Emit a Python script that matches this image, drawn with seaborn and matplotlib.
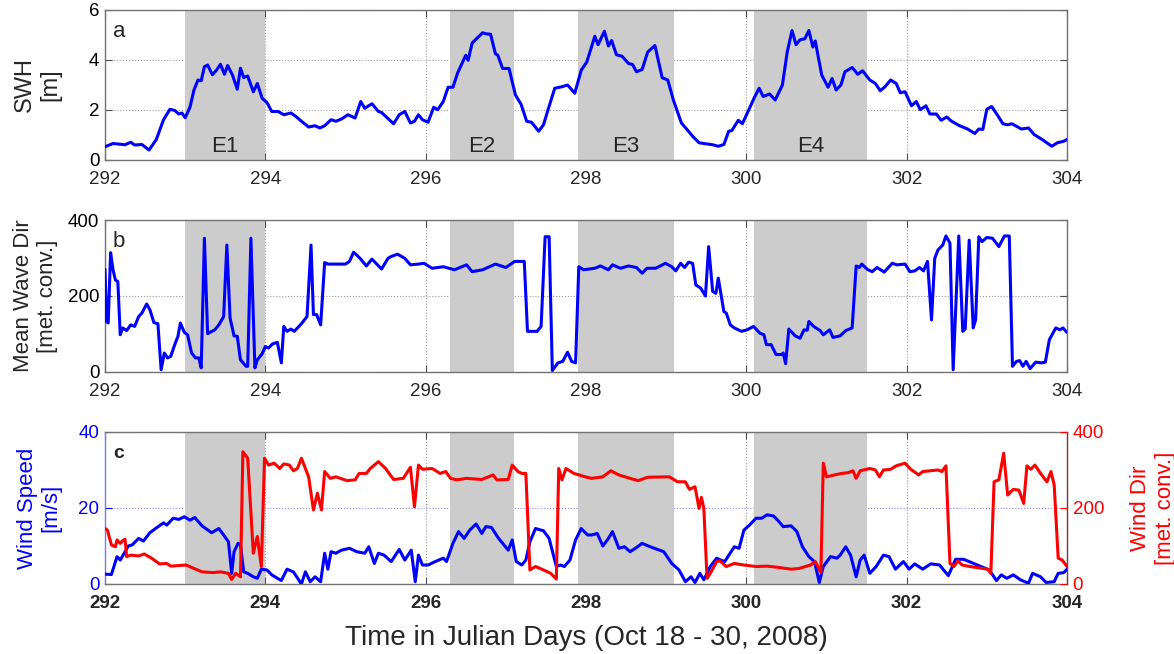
import matplotlib
matplotlib.use("Agg")
import matplotlib.pyplot as plt
import pandas as pd
import seaborn as sns

# Significant wave height (panel a)
swh_day = [292.0, 292.1, 292.25, 292.32, 292.37, 292.46, 292.55, 292.64, 292.73, 292.81,
           292.87, 292.92, 292.96, 293.0, 293.06, 293.11, 293.16, 293.2, 293.24, 293.28,
           293.34, 293.39, 293.44, 293.49, 293.53, 293.59, 293.65, 293.69, 293.73, 293.78,
           293.85, 293.9, 293.96, 294.02, 294.08, 294.16, 294.23, 294.32, 294.39, 294.45,
           294.54, 294.62, 294.68, 294.74, 294.82, 294.88, 294.95, 295.03, 295.12, 295.19,
           295.24, 295.33, 295.41, 295.45, 295.51, 295.6, 295.67, 295.74, 295.81, 295.86,
           295.91, 295.96, 296.03, 296.1, 296.15, 296.22, 296.28, 296.34, 296.4, 296.5,
           296.53, 296.58, 296.71, 296.75, 296.81, 296.87, 296.9, 296.96, 297.04, 297.12,
           297.19, 297.26, 297.32, 297.41, 297.47, 297.52, 297.61, 297.7, 297.77, 297.86,
           297.94, 298.01, 298.11, 298.15, 298.23, 298.28, 298.32, 298.38, 298.45, 298.53,
           298.58, 298.63, 298.7, 298.77, 298.86, 298.95, 299.02, 299.09, 299.19, 299.26,
           299.33, 299.41, 299.49, 299.58, 299.65, 299.72, 299.78, 299.82, 299.9, 299.95,
           300.04, 300.1, 300.16, 300.21, 300.29, 300.36, 300.45, 300.51, 300.57, 300.62,
           300.67, 300.73, 300.78, 300.83, 300.86, 300.94, 301.02, 301.07, 301.12, 301.18,
           301.23, 301.32, 301.39, 301.45, 301.54, 301.61, 301.67, 301.73, 301.8, 301.87,
           301.92, 301.98, 302.06, 302.12, 302.17, 302.24, 302.29, 302.37, 302.43, 302.5,
           302.56, 302.66, 302.76, 302.85, 302.9, 302.95, 303.0, 303.06, 303.13, 303.2,
           303.26, 303.31, 303.37, 303.43, 303.52, 303.59, 303.69, 303.81, 303.88, 303.96,
           304.0]
swh_m = [0.53, 0.66, 0.61, 0.71, 0.6, 0.62, 0.4, 0.82, 1.61, 2.03,
         1.98, 1.84, 1.88, 1.69, 2.11, 2.8, 3.2, 3.17, 3.73, 3.8,
         3.41, 3.59, 3.83, 3.43, 3.78, 3.4, 2.83, 3.67, 3.3, 3.36,
         2.73, 3.06, 2.47, 2.3, 1.94, 1.94, 1.81, 1.88, 1.72, 1.55,
         1.32, 1.37, 1.28, 1.37, 1.61, 1.55, 1.64, 1.81, 1.68, 2.34,
         2.07, 2.25, 1.94, 1.9, 1.72, 1.45, 1.81, 1.94, 1.48, 1.55,
         1.81, 1.61, 1.51, 2.11, 2.01, 2.34, 2.91, 2.91, 3.49, 4.19,
         3.99, 4.68, 5.09, 5.05, 5.03, 4.25, 4.19, 3.66, 3.66, 2.6,
         2.23, 1.55, 1.51, 1.15, 1.41, 1.94, 2.87, 2.93, 3.0, 2.67,
         3.59, 3.92, 4.95, 4.61, 5.15, 4.56, 4.78, 4.21, 4.15, 3.86,
         3.82, 3.53, 3.62, 4.32, 4.58, 3.29, 3.2, 2.4, 1.48, 1.22,
         0.95, 0.69, 0.65, 0.61, 0.55, 0.62, 1.15, 1.18, 1.59, 1.45,
         2.07, 2.5, 2.87, 2.54, 2.64, 2.4, 3.0, 4.32, 5.18, 4.61,
         4.81, 4.85, 5.18, 4.52, 4.76, 3.4, 2.91, 3.26, 2.8, 3.0,
         3.53, 3.7, 3.43, 3.57, 3.2, 3.06, 2.77, 2.93, 3.2, 3.06,
         2.69, 2.73, 2.17, 2.34, 2.01, 2.17, 1.84, 1.84, 1.59, 1.72,
         1.55, 1.37, 1.24, 1.06, 1.24, 1.22, 2.03, 2.14, 1.81, 1.45,
         1.41, 1.45, 1.35, 1.24, 1.28, 1.02, 0.82, 0.55, 0.69, 0.75,
         0.82]

# Mean wave direction (panel b)
mwd_day = [292.0, 292.02, 292.04, 292.07, 292.1, 292.13, 292.16, 292.19, 292.22, 292.27,
           292.32, 292.37, 292.42, 292.46, 292.52, 292.56, 292.61, 292.66, 292.7, 292.74,
           292.78, 292.82, 292.87, 292.91, 292.94, 292.99, 293.03, 293.08, 293.13, 293.17,
           293.2, 293.24, 293.28, 293.37, 293.42, 293.48, 293.52, 293.56, 293.61, 293.65,
           293.69, 293.76, 293.78, 293.82, 293.87, 293.9, 293.96, 294.0, 294.04, 294.09,
           294.15, 294.2, 294.23, 294.27, 294.32, 294.36, 294.45, 294.52, 294.57, 294.6,
           294.64, 294.69, 294.74, 294.78, 295.0, 295.05, 295.1, 295.14, 295.19, 295.26,
           295.33, 295.38, 295.45, 295.53, 295.57, 295.65, 295.74, 295.81, 295.91, 295.98,
           296.08, 296.22, 296.36, 296.51, 296.58, 296.71, 296.87, 297.0, 297.11, 297.23,
           297.27, 297.39, 297.44, 297.49, 297.54, 297.58, 297.65, 297.71, 297.77, 297.82,
           297.87, 297.91, 297.97, 298.11, 298.18, 298.28, 298.33, 298.43, 298.53, 298.63,
           298.7, 298.76, 298.87, 298.99, 299.07, 299.12, 299.18, 299.23, 299.28, 299.33,
           299.37, 299.43, 299.49, 299.53, 299.58, 299.62, 299.65, 299.72, 299.75, 299.8,
           299.85, 299.94, 300.01, 300.09, 300.17, 300.22, 300.25, 300.31, 300.37, 300.44,
           300.46, 300.49, 300.53, 300.61, 300.67, 300.72, 300.76, 300.78, 300.84, 300.92,
           300.96, 301.04, 301.08, 301.17, 301.24, 301.32, 301.37, 301.41, 301.44, 301.51,
           301.57, 301.63, 301.72, 301.82, 301.88, 301.98, 302.04, 302.1, 302.16, 302.21,
           302.26, 302.31, 302.35, 302.39, 302.45, 302.49, 302.54, 302.58, 302.65, 302.7,
           302.73, 302.78, 302.83, 302.86, 302.9, 302.94, 303.0, 303.07, 303.15, 303.22,
           303.28, 303.32, 303.37, 303.41, 303.45, 303.49, 303.54, 303.61, 303.68, 303.73,
           303.78, 303.86, 303.91, 303.95, 304.0]
mwd_deg = [270, 133, 129, 314, 269, 242, 238, 98, 116, 109,
           124, 120, 146, 155, 179, 164, 130, 127, 6, 50,
           37, 41, 72, 94, 129, 104, 98, 50, 37, 37,
           11, 352, 101, 111, 124, 146, 334, 142, 95, 94,
           32, 15, 15, 352, 11, 32, 48, 67, 63, 74,
           78, 24, 120, 107, 113, 107, 127, 146, 334, 151,
           151, 124, 288, 284, 284, 291, 315, 308, 297, 279,
           297, 286, 271, 299, 304, 310, 299, 282, 284, 286,
           273, 277, 269, 282, 264, 269, 284, 275, 291, 291,
           107, 107, 120, 356, 356, 4, 24, 28, 52, 28,
           24, 277, 269, 273, 279, 269, 282, 273, 279, 275,
           260, 273, 273, 286, 277, 266, 286, 275, 289, 286,
           229, 221, 200, 330, 212, 207, 247, 159, 155, 124,
           116, 107, 111, 120, 102, 98, 72, 72, 46, 46,
           50, 22, 113, 95, 89, 111, 110, 133, 120, 109,
           98, 111, 91, 95, 109, 116, 279, 275, 284, 270,
           264, 275, 263, 286, 282, 284, 264, 266, 275, 266,
           291, 137, 299, 321, 334, 358, 339, 6, 358, 107,
           113, 347, 116, 137, 356, 343, 354, 352, 330, 358,
           358, 15, 28, 30, 15, 28, 9, 26, 24, 26,
           85, 116, 111, 116, 104]

# Wind speed (panel c, left axis)
ws_day = [292.0, 292.08, 292.15, 292.19, 292.24, 292.29, 292.34, 292.42, 292.48, 292.56,
          292.63, 292.73, 292.77, 292.85, 292.92, 292.99, 293.06, 293.12, 293.21, 293.33,
          293.42, 293.49, 293.54, 293.58, 293.61, 293.66, 293.69, 293.73, 293.78, 293.85,
          293.9, 293.95, 294.02, 294.08, 294.2, 294.27, 294.35, 294.45, 294.5, 294.56,
          294.62, 294.69, 294.74, 294.78, 294.82, 294.88, 294.95, 295.05, 295.14, 295.24,
          295.29, 295.36, 295.41, 295.48, 295.57, 295.67, 295.74, 295.82, 295.87, 295.91,
          295.96, 296.03, 296.12, 296.22, 296.26, 296.34, 296.41, 296.48, 296.55, 296.63,
          296.7, 296.75, 296.82, 296.91, 297.03, 297.08, 297.13, 297.2, 297.25, 297.3,
          297.37, 297.47, 297.54, 297.63, 297.68, 297.73, 297.8, 297.87, 297.94, 298.02,
          298.07, 298.14, 298.21, 298.28, 298.33, 298.41, 298.48, 298.55, 298.63, 298.7,
          298.8, 298.97, 299.07, 299.16, 299.24, 299.31, 299.36, 299.42, 299.47, 299.55,
          299.63, 299.68, 299.73, 299.77, 299.85, 299.91, 299.97, 300.04, 300.12, 300.19,
          300.26, 300.34, 300.39, 300.46, 300.56, 300.63, 300.7, 300.78, 300.85, 300.91,
          300.96, 301.05, 301.13, 301.17, 301.24, 301.3, 301.37, 301.42, 301.47, 301.54,
          301.62, 301.71, 301.78, 301.86, 301.96, 302.03, 302.1, 302.2, 302.3, 302.41,
          302.52, 302.61, 302.71, 302.88, 303.03, 303.12, 303.18, 303.25, 303.33, 303.42,
          303.52, 303.57, 303.67, 303.74, 303.84, 303.89, 303.96, 304.0]
ws_ms = [2.6, 2.5, 7.2, 6.3, 8.1, 10.0, 10.3, 12.0, 11.3, 13.5,
         14.6, 16.1, 15.5, 17.3, 17.0, 17.7, 16.8, 17.5, 15.3, 13.5,
         14.6, 12.6, 11.1, 2.8, 8.5, 10.7, 10.3, 3.2, 2.8, 1.9,
         1.5, 3.9, 3.7, 2.4, 0.9, 3.9, 3.2, 0.0, 3.2, 0.6,
         1.9, 0.6, 8.1, 3.9, 8.5, 8.1, 8.9, 9.4, 8.5, 8.1,
         9.8, 5.4, 8.1, 7.6, 5.9, 9.1, 6.3, 8.9, 0.6, 7.6,
         5.0, 5.0, 5.9, 6.8, 5.9, 10.7, 13.8, 12.0, 14.2, 15.8,
         13.3, 15.1, 14.9, 12.0, 8.9, 11.6, 5.9, 5.0, 6.3, 11.1,
         14.6, 14.0, 12.0, 4.6, 5.0, 4.6, 6.3, 11.6, 14.6, 12.9,
         12.9, 13.3, 10.0, 12.0, 13.8, 9.4, 9.8, 8.5, 9.6, 10.7,
         9.8, 8.5, 5.4, 3.7, 0.6, 1.9, 0.4, 2.8, 1.1, 4.6,
         6.8, 6.3, 5.9, 7.2, 9.8, 9.4, 14.2, 15.5, 17.3, 17.3,
         18.2, 17.9, 16.8, 15.1, 15.3, 13.8, 9.8, 7.2, 5.9, 0.4,
         4.6, 7.2, 6.8, 7.6, 9.8, 7.6, 1.9, 6.3, 7.6, 2.8,
         4.6, 7.6, 7.2, 3.9, 5.9, 3.9, 5.3, 3.9, 5.3, 5.0,
         2.2, 6.5, 6.5, 5.0, 3.7, 0.9, 2.4, 1.5, 2.4, 1.1,
         0.2, 2.8, 1.9, 0.4, 0.6, 2.8, 3.0, 3.9]

# Wind direction (panel c, right axis)
wd_day = [292.0, 292.03, 292.08, 292.13, 292.15, 292.19, 292.22, 292.25, 292.27, 292.32,
          292.42, 292.49, 292.58, 292.68, 292.77, 292.82, 293.01, 293.11, 293.21, 293.35,
          293.44, 293.54, 293.58, 293.63, 293.69, 293.72, 293.78, 293.85, 293.9, 293.95,
          293.99, 294.04, 294.11, 294.18, 294.23, 294.3, 294.35, 294.4, 294.45, 294.5,
          294.54, 294.6, 294.65, 294.7, 294.74, 294.81, 294.88, 295.02, 295.12, 295.17,
          295.26, 295.31, 295.41, 295.5, 295.6, 295.72, 295.81, 295.86, 295.91, 295.96,
          296.08, 296.18, 296.25, 296.31, 296.39, 296.51, 296.7, 296.84, 296.89, 297.03,
          297.08, 297.15, 297.2, 297.25, 297.3, 297.37, 297.47, 297.56, 297.63, 297.66,
          297.7, 297.75, 297.85, 297.99, 298.07, 298.21, 298.31, 298.41, 298.55, 298.65,
          298.77, 299.04, 299.14, 299.24, 299.29, 299.36, 299.41, 299.44, 299.47, 299.51,
          299.55, 299.63, 299.67, 299.75, 299.85, 299.97, 300.12, 300.26, 300.39, 300.56,
          300.66, 300.8, 300.86, 300.93, 300.96, 301.0, 301.1, 301.19, 301.27, 301.33,
          301.37, 301.42, 301.54, 301.61, 301.66, 301.71, 301.8, 301.87, 301.98, 302.05,
          302.15, 302.2, 302.3, 302.39, 302.44, 302.49, 302.54, 302.59, 302.64, 302.69,
          302.79, 303.01, 303.05, 303.09, 303.15, 303.21, 303.26, 303.33, 303.4, 303.46,
          303.5, 303.55, 303.6, 303.67, 303.75, 303.8, 303.84, 303.89, 303.94, 304.0]
wd_deg = [146, 142, 103, 98, 116, 107, 114, 118, 72, 76,
          74, 79, 68, 53, 54, 47, 50, 41, 32, 30,
          32, 28, 12, 28, 19, 348, 331, 81, 125, 46,
          331, 313, 318, 304, 316, 313, 298, 304, 331, 304,
          282, 195, 239, 195, 296, 278, 282, 272, 274, 291,
          291, 304, 322, 304, 275, 278, 307, 203, 313, 302,
          304, 291, 296, 278, 274, 278, 275, 287, 274, 275,
          313, 296, 291, 291, 37, 46, 37, 28, 13, 304,
          274, 304, 291, 282, 278, 282, 298, 287, 278, 272,
          281, 282, 269, 269, 249, 256, 199, 228, 199, 15,
          28, 59, 61, 46, 54, 50, 46, 47, 44, 39,
          41, 50, 59, 30, 318, 282, 287, 291, 293, 298,
          278, 298, 304, 300, 282, 300, 302, 311, 318, 302,
          287, 296, 298, 300, 296, 311, 54, 46, 61, 50,
          46, 39, 28, 269, 274, 344, 234, 249, 247, 212,
          311, 302, 313, 291, 269, 296, 261, 68, 63, 46]

# Storm events
event_names = ["E1", "E2", "E3", "E4"]
event_start = [293.0, 296.3, 297.9, 300.1]
event_end = [294.0, 297.1, 299.1, 301.5]

xticks = [292, 294, 296, 298, 300, 302, 304]

sns.set_style("ticks")
plt.rcParams["font.family"] = ["Liberation Sans", "DejaVu Sans"]
plt.rcParams["xtick.direction"] = "in"
plt.rcParams["ytick.direction"] = "in"

W, H = 1174, 654
LEFT, RIGHT = 105, 1067
fig = plt.figure(figsize=(W / 100, H / 100), dpi=100)


def make_axes(top, bottom):
    return fig.add_axes([LEFT / W, 1 - bottom / H, (RIGHT - LEFT) / W, (bottom - top) / H])


def style(ax, ycolor="black"):
    ax.set_xlim(292, 304)
    ax.set_xticks(xticks)
    ax.tick_params(labelsize=13.5, length=5, width=0.8, color="0.3", top=True)
    ax.tick_params(axis="x", pad=8)
    ax.tick_params(axis="y", labelcolor=ycolor, pad=4)
    ax.set_xlabel("")
    ax.set_axisbelow(True)
    ax.grid(True, linestyle=":", color="0.6", lw=0.8)
    for s in ax.spines.values():
        s.set_color("0.45")
        s.set_linewidth(1.0)
    for s, e in zip(event_start, event_end):
        ax.axvspan(s, e, color="#cccccc", lw=0, zorder=1)


# Panel a
ax1 = make_axes(10, 160)
sns.lineplot(x=swh_day, y=swh_m, ax=ax1, color="blue", lw=2.2, estimator=None, zorder=3)
style(ax1)
ax1.tick_params(right=True)
ax1.set_ylim(0, 6)
ax1.set_yticks([0, 2, 4, 6])
ax1.set_ylabel("SWH\n[m]", fontsize=17)
ax1.yaxis.set_label_coords(-0.045, 0.5)
ax1.text(292.1, 5.15, "a", fontsize=16, va="center")
for name, s, e in zip(event_names, event_start, event_end):
    ax1.text((s + e) / 2, 0.55, name, fontsize=16, ha="center", va="center", zorder=4)

# Panel b
ax2 = make_axes(220, 372)
sns.lineplot(x=mwd_day, y=mwd_deg, ax=ax2, color="blue", lw=2.2, estimator=None, zorder=3)
style(ax2)
ax2.tick_params(right=True)
ax2.set_ylim(0, 400)
ax2.set_yticks([0, 200, 400])
ax2.set_ylabel("Mean Wave Dir\n[met. conv.]", fontsize=16)
ax2.yaxis.set_label_coords(-0.049, 0.5)
ax2.text(292.1, 343, "b", fontsize=16, va="center")

# Panel c
ax3 = make_axes(432, 584)
sns.lineplot(x=ws_day, y=ws_ms, ax=ax3, color="blue", lw=2.2, estimator=None, zorder=3)
style(ax3, ycolor="blue")
ax3.grid(True, axis="y", color="#8888ff")
ax3.tick_params(axis="y", color="blue")
ax3.spines["left"].set_color("#7777ff")
ax3.set_ylim(0, 40)
ax3.set_yticks([0, 20, 40])
for lab in ax3.get_xticklabels():
    lab.set_fontweight("bold")
ax3.set_ylabel("Wind Speed\n[m/s]", fontsize=16, color="blue")
ax3.yaxis.set_label_coords(-0.045, 0.5)
ax3.text(292.1, 34.4, "c", fontsize=14, fontweight="bold", va="center")
ax3.set_xlabel("Time in Julian Days (Oct 18 - 30, 2008)", fontsize=20, labelpad=9)

ax4 = ax3.twinx()
sns.lineplot(x=wd_day, y=wd_deg, ax=ax4, color="red", lw=2.2, estimator=None, zorder=3)
ax4.set_ylim(0, 400)
ax4.set_yticks([0, 200, 400])
ax4.tick_params(axis="y", labelsize=13.5, labelcolor="red", color="red", length=5, pad=4)
ax4.set_ylabel("Wind Dir\n[met. conv.]", fontsize=16, color="red")
ax4.yaxis.set_label_coords(1.066, 0.5)
ax4.spines["right"].set_color("red")
for s in ["top", "left", "bottom"]:
    ax4.spines[s].set_visible(False)

fig.savefig("out.png", dpi=100)
